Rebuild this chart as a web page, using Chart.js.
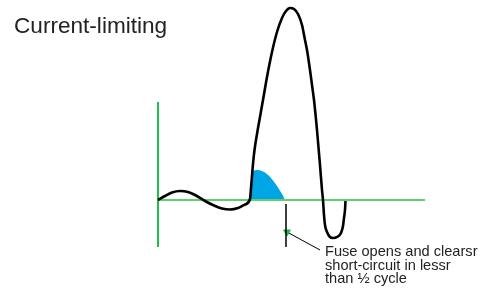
<!DOCTYPE html>
<html>
<head>
<meta charset="utf-8">
<script src="https://cdn.jsdelivr.net/npm/chart.js@4/dist/chart.umd.min.js"></script>
<style>
  body { margin: 0; background: #fff; }
  #wrap { width: 480px; height: 288px; position: relative; }
</style>
</head>
<body>
<div id="wrap"><canvas id="fuse-chart"></canvas></div>
<script>
// fault current through a current-limiting fuse (time units, current units)
const curveTime = [0, 0.7, 1.4, 2.2, 3.0, 3.8, 4.7, 5.6, 6.4, 7.2, 8.0, 8.7, 9.2, 9.3, 9.4, 9.5, 9.65, 9.9, 10.2, 10.5, 10.9, 11.4, 11.9, 12.4, 12.8, 13.2, 13.6, 14.0, 14.4, 14.7, 14.9, 15.2, 15.4, 15.6, 15.9, 16.2, 16.4, 16.5, 16.6, 16.7, 16.9, 17.2, 17.5, 17.9, 18.3, 18.5, 18.6, 18.7, 18.75];
const curveCurrent = [0, 0.4, 0.75, 0.9, 0.8, 0.45, -0.1, -0.55, -0.85, -0.95, -0.8, -0.45, 0.1, 1.2, 2.4, 3.6, 5.0, 6.6, 8.3, 10.0, 12.3, 14.8, 16.8, 18.2, 18.9, 19.2, 19.1, 18.6, 17.5, 16.0, 15.0, 13.0, 11.5, 10.0, 7.0, 3.5, 1.0, 0, -1.5, -2.5, -3.2, -3.7, -3.8, -3.7, -3.3, -2.6, -1.8, -1.0, -0.1];

// let-through current before the fuse clears
const letThroughTime = [9.2, 9.3, 9.4, 9.5, 9.7, 10.0, 10.5, 11.0, 11.5, 12.0, 12.4, 12.7];
const letThroughCurrent = [0, 1.2, 2.4, 2.85, 2.97, 3.0, 2.85, 2.5, 1.95, 1.25, 0.6, 0];

const axisTime = [0, 26.7];
const axisCurrent = [9.8, -4.7];
const clearTime = 12.8;
const clearMarker = [-0.4, -4.7];
const arrowTail = [16.2, -5.0];
const arrowHead = [12.9, -3.2];

const titleText = 'Current-limiting';
const noteLines = ['Fuse opens and clearsr', 'short-circuit in lessr', 'than \u00bd cycle'];
const noteTime = 16.7;
const noteCurrent = [-5.6, -7.0, -8.3];

function toPoints(xs, ys) {
  return xs.map((x, i) => ({ x, y: ys[i] }));
}

const textPlugin = {
  id: 'fuseText',
  afterDraw(chart) {
    const { ctx, chartArea, scales } = chart;
    ctx.save();
    ctx.fillStyle = '#222';
    ctx.textBaseline = 'alphabetic';
    ctx.font = '22.6px "Liberation Sans", Arial, sans-serif';
    ctx.fillText(titleText, chartArea.left + 14, chartArea.top + 33);

    ctx.font = '14.6px "Liberation Sans", Arial, sans-serif';
    const x = scales.x.getPixelForValue(noteTime);
    noteLines.forEach((line, i) => {
      ctx.fillText(line, x, scales.y.getPixelForValue(noteCurrent[i]));
    });
    ctx.restore();
  }
};

const GREEN = '#1dbf4a';

new Chart(document.getElementById('fuse-chart'), {
  type: 'line',
  data: {
    datasets: [
      {
        data: toPoints(curveTime, curveCurrent),
        borderColor: '#000',
        borderWidth: 2.6,
        cubicInterpolationMode: 'monotone',
        pointRadius: 0,
        order: 0
      },
      {
        data: toPoints([clearTime, clearTime], clearMarker),
        borderColor: '#000',
        borderWidth: 1.5,
        pointRadius: 0,
        order: 0
      },
      {
        data: toPoints([arrowTail[0], arrowHead[0]], [arrowTail[1], arrowHead[1]]),
        borderColor: '#000',
        borderWidth: 1,
        pointRadius: [0, 4],
        pointStyle: 'triangle',
        pointRotation: -61,
        pointBackgroundColor: GREEN,
        pointBorderColor: GREEN,
        pointBorderWidth: 1,
        order: 0
      },
      {
        data: toPoints(axisTime, [0, 0]),
        borderColor: '#5fd070',
        borderWidth: 2,
        pointRadius: 0,
        order: 1
      },
      {
        data: toPoints([0, 0], axisCurrent),
        borderColor: GREEN,
        borderWidth: 2,
        pointRadius: 0,
        order: 1
      },
      {
        data: toPoints(letThroughTime, letThroughCurrent),
        borderWidth: 0,
        borderColor: 'rgba(0,0,0,0)',
        backgroundColor: '#00a6e3',
        fill: 'origin',
        tension: 0.4,
        pointRadius: 0,
        order: 2
      }
    ]
  },
  options: {
    responsive: true,
    maintainAspectRatio: false,
    animation: false,
    layout: { padding: 0, autoPadding: false },
    scales: {
      x: { type: 'linear', min: -15.8, max: 32.2, display: false },
      y: { type: 'linear', min: -8.8, max: 20.0, display: false }
    },
    plugins: {
      legend: { display: false },
      tooltip: { enabled: false }
    }
  },
  plugins: [textPlugin]
});
</script>
</body>
</html>
